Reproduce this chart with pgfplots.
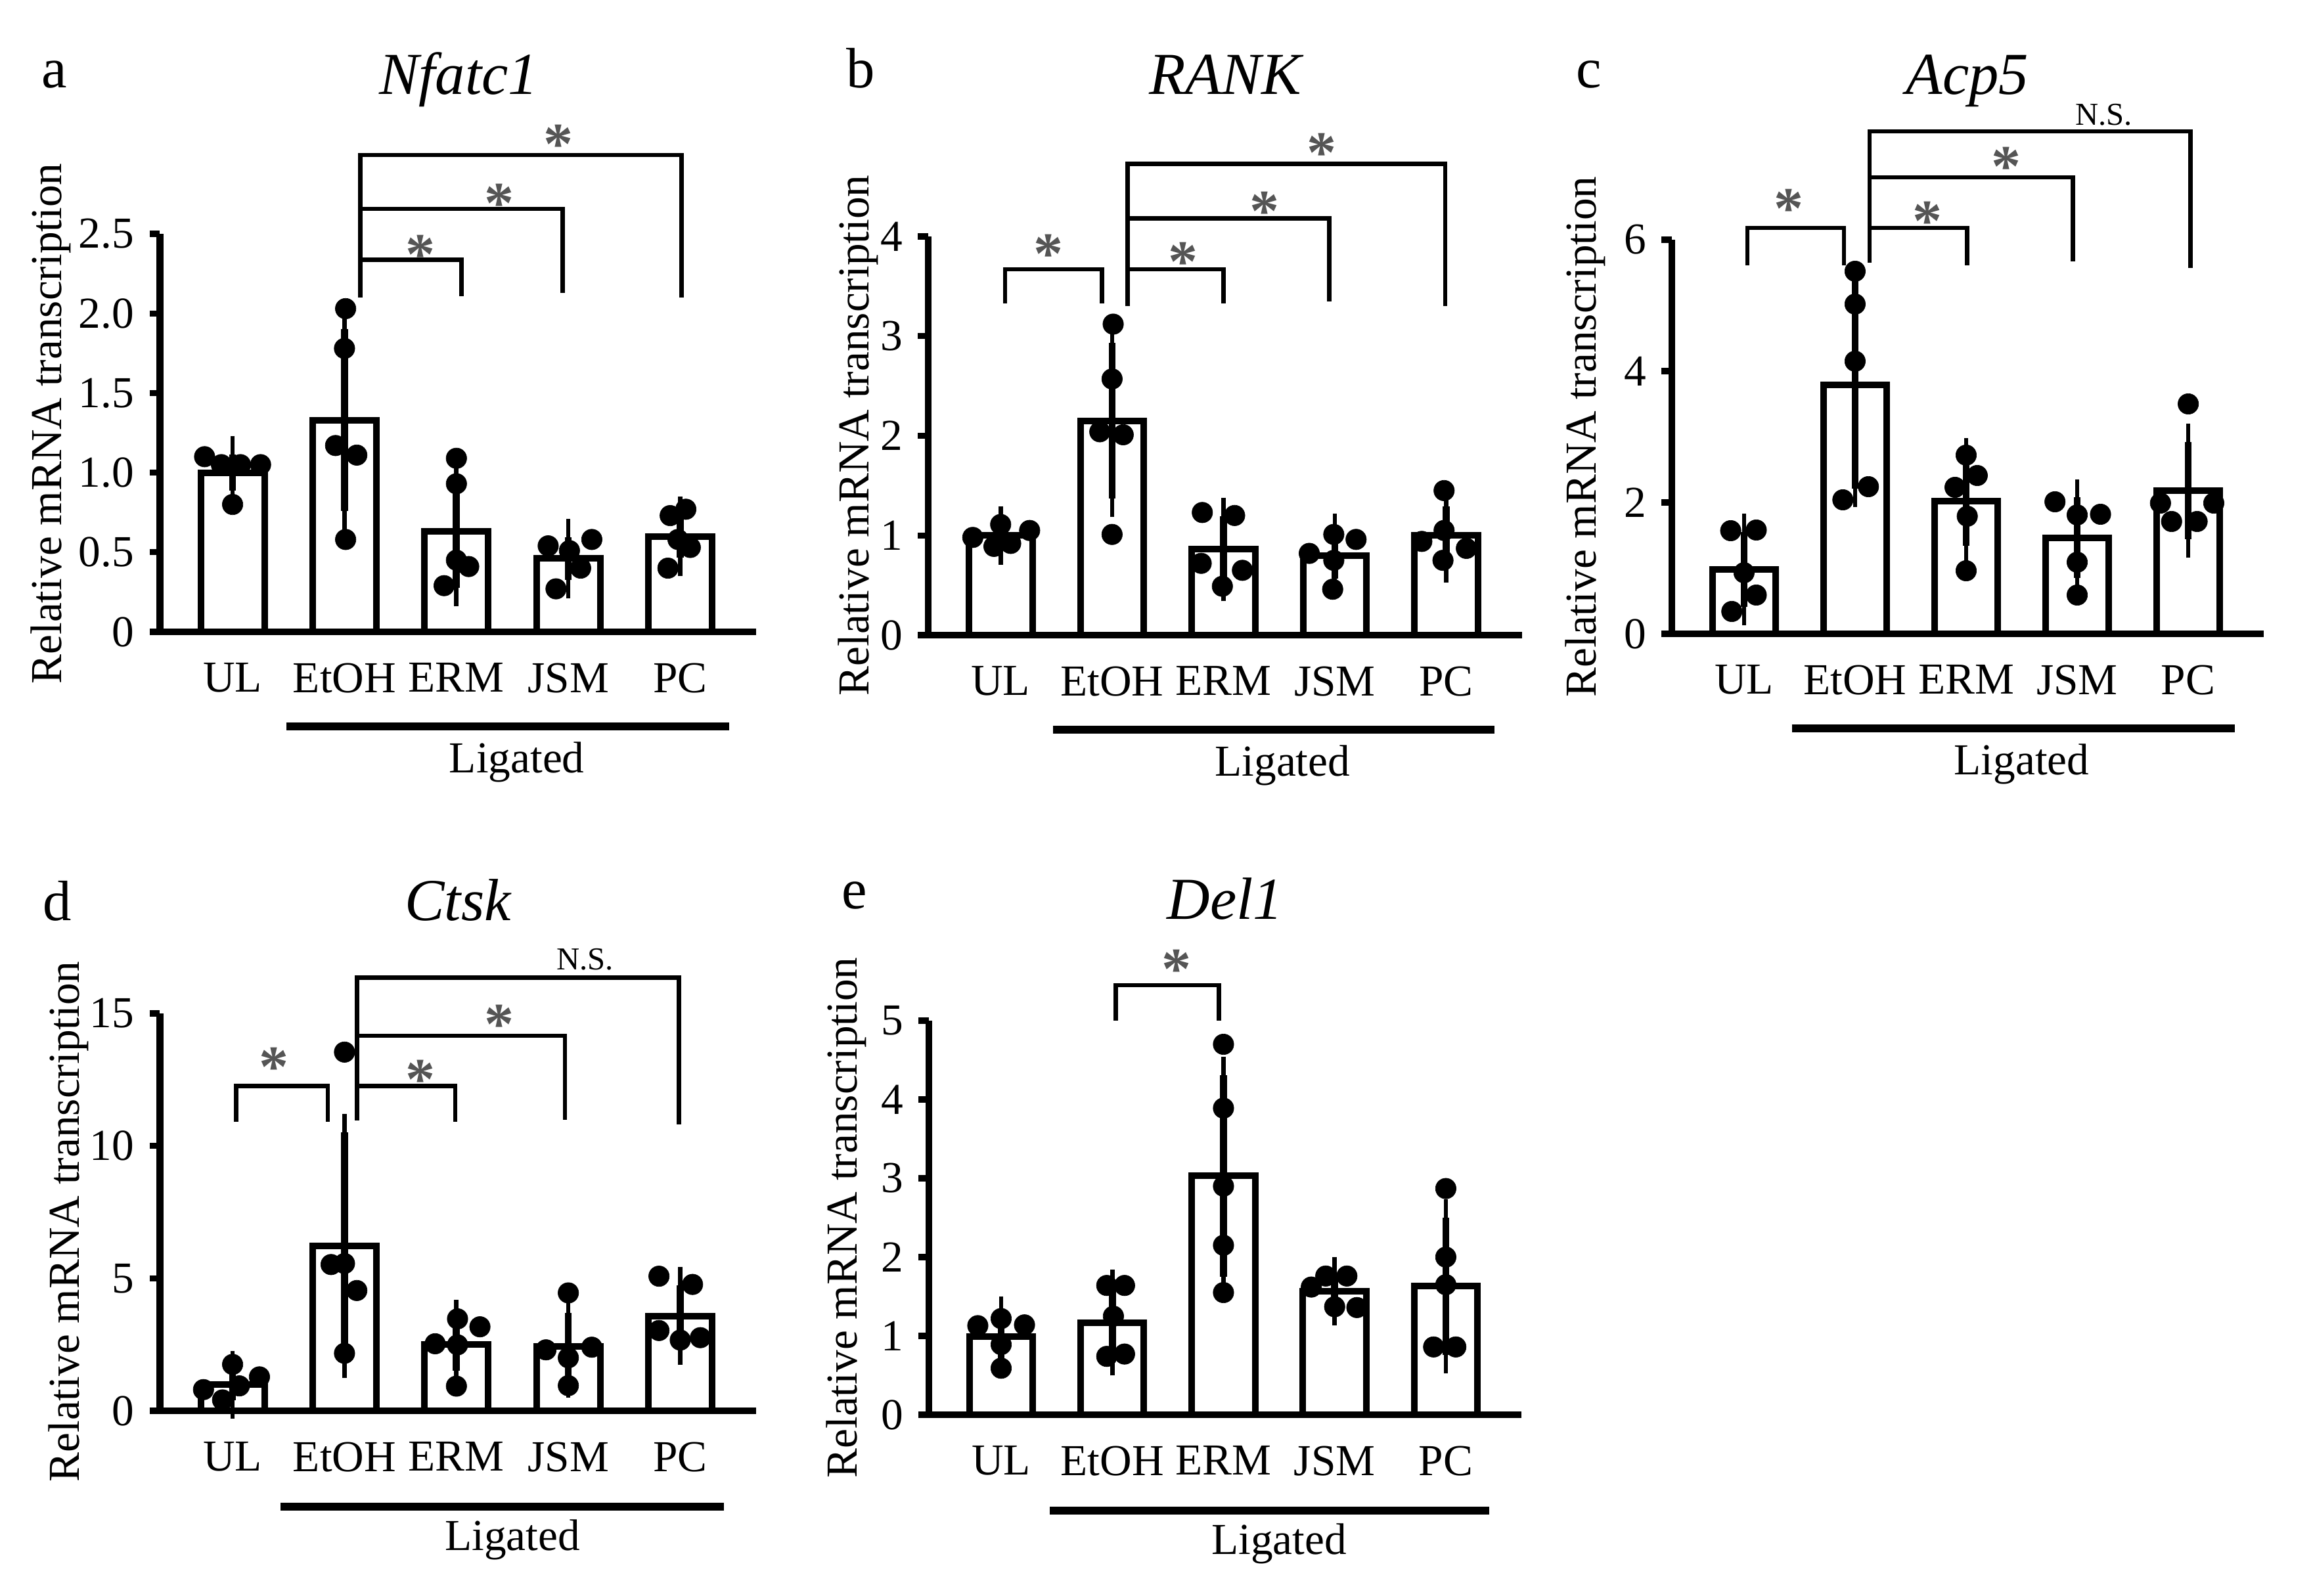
\documentclass[border=0pt]{standalone}
\usepackage{fontspec}
\setmainfont{Liberation Serif}
\usepackage{pgfplots}
\pgfplotsset{compat=1.18}
\usetikzlibrary{calc}

\definecolor{stargray}{HTML}{555555}

\newcommand{\tx}{\fontsize{10.1}{12}\selectfont}
\newcommand{\ttl}{\fontsize{13.6}{16}\selectfont\itshape}
\newcommand{\plab}{\fontsize{13}{15}\selectfont}
\newcommand{\nsf}{\fontsize{7.3}{9}\selectfont}
\newcommand{\stf}{\fontsize{13.5}{16}\selectfont\bfseries}

\tikzset{
  br/.style={line width=1pt},
  lig/.style={line width=1.8pt},
  sig/.style={font=\stf, text=stargray, inner sep=0pt, yshift=-1.8pt},
  nsl/.style={font=\nsf, anchor=base, inner sep=0pt},
  ylab/.style={font=\tx, rotate=90, anchor=base, inner sep=0pt},
}

\pgfplotsset{
  panel/.style={
    scale only axis, anchor=south west, clip=false,
    axis x line*=bottom, axis y line*=left,
    axis line style={line width=1.6pt},
    xmin=-0.65, xmax=4.68, ymin=0,
    xtick={0,1,2,3,4}, xticklabels={UL,EtOH,ERM,JSM,PC},
    major x tick style={draw=none},
    tick align=outside, major tick length=2.35pt,
    major y tick style={line width=1.4pt, black},
    ticklabel style={font=\tx},
    xticklabel style={yshift=-1.3pt},
  },
  barplot/.style={ybar, bar width=0.57, fill=white, draw=black, line width=1.5pt,
    error bars/y dir=both, error bars/y explicit,
    error bars/error bar style={line width=1.6pt, black},
    error bars/error mark options={line width=1.0pt, mark size=4.2pt, black}},
  dots/.style={only marks, mark=*, mark size=2.35pt,
    mark options={draw=black, fill=black, line width=0.1pt}},
}

\begin{document}
\begin{tikzpicture}
\path[use as bounding box] (0,0) rectangle (528.15pt,364.5pt);

% ---- a: Nfatc1
\begin{axis}[panel, at={(36.5pt,220.2pt)}, width=136.2pt, height=90.9pt,
  ymax=2.5, ytick={0,0.5,1,1.5,2,2.5}, yticklabels={0,0.5,1.0,1.5,2.0,2.5}]
\addplot[barplot] coordinates {(0,1.00)+-(0,0.115) (1,1.33)+-(0,0.57) (2,0.63)+-(0,0.355) (3,0.46)+-(0,0.135) (4,0.60)+-(0,0.135)};
\addplot[dots] coordinates {
 (-0.25,1.10) (-0.10,1.05) (0.07,1.05) (0.25,1.05) (0,0.80)
 (1.01,2.03) (1.0,1.78) (0.92,1.17) (1.11,1.11) (1.01,0.58)
 (2.0,1.09) (2.0,0.93) (2.0,0.45) (2.11,0.41) (1.89,0.29)
 (2.82,0.54) (3.01,0.51) (3.21,0.58) (3.11,0.40) (2.89,0.27)
 (3.91,0.73) (4.05,0.77) (3.98,0.58) (4.09,0.53) (3.89,0.40)};
\draw[br] (axis cs:1.14,2.10) -- (axis cs:1.14,2.995) -- (axis cs:4.01,2.995) -- (axis cs:4.01,2.10);
\draw[br] (axis cs:1.14,2.657) -- (axis cs:2.95,2.657) -- (axis cs:2.95,2.13);
\draw[br] (axis cs:1.14,2.337) -- (axis cs:2.045,2.337) -- (axis cs:2.045,2.11);
\node[sig] at (axis cs:1.68,2.42) {*};
\node[sig] at (axis cs:2.38,2.74) {*};
\node[sig] at (axis cs:2.91,3.11) {*};
\draw[lig] ($(axis cs:0.48,0)+(0pt,-21.6pt)$) -- ($(axis cs:4.44,0)+(0pt,-21.6pt)$);
\node[font=\tx, anchor=base] at ($(axis cs:2.54,0)+(0pt,-32.2pt)$) {Ligated};
\end{axis}

% ---- b: RANK
\begin{axis}[panel, at={(211.95pt,219.45pt)}, width=135.6pt, height=91.05pt,
  ymax=4, ytick={0,1,2,3,4}, yticklabels={0,1,2,3,4}]
\addplot[barplot] coordinates {(0,1.00)+-(0,0.11) (1,2.15)+-(0,0.78) (2,0.86)+-(0,0.335) (3,0.80)+-(0,0.235) (4,1.00)+-(0,0.29)};
\addplot[dots] coordinates {
 (-0.25,0.98) (-0.06,0.89) (0,1.11) (0.09,0.92) (0.26,1.05)
 (1.01,3.12) (1.0,2.57) (0.89,2.04) (1.10,2.01) (1.0,1.01)
 (1.81,1.23) (2.10,1.20) (1.80,0.72) (2.17,0.65) (1.99,0.49)
 (2.77,0.82) (2.99,1.01) (3.19,0.96) (2.99,0.75) (2.98,0.46)
 (3.98,1.45) (3.78,0.94) (3.98,1.05) (4.18,0.87) (3.97,0.75)};
\draw[br] (axis cs:0.04,3.33) -- (axis cs:0.04,3.67) -- (axis cs:0.91,3.67) -- (axis cs:0.91,3.33);
\draw[br] (axis cs:1.14,3.30) -- (axis cs:1.14,4.73) -- (axis cs:3.99,4.73) -- (axis cs:3.99,3.30);
\draw[br] (axis cs:1.14,4.18) -- (axis cs:2.95,4.18) -- (axis cs:2.95,3.35);
\draw[br] (axis cs:1.14,3.67) -- (axis cs:2.0,3.67) -- (axis cs:2.0,3.33);
\node[sig] at (axis cs:0.43,3.90) {*};
\node[sig] at (axis cs:1.64,3.82) {*};
\node[sig] at (axis cs:2.37,4.33) {*};
\node[sig] at (axis cs:2.88,4.92) {*};
\draw[lig] ($(axis cs:0.47,0)+(0pt,-21.6pt)$) -- ($(axis cs:4.43,0)+(0pt,-21.6pt)$);
\node[font=\tx, anchor=base] at ($(axis cs:2.53,0)+(0pt,-32.2pt)$) {Ligated};
\end{axis}

% ---- c: Acp5
\begin{axis}[panel, at={(381.75pt,219.75pt)}, width=135.15pt, height=90pt,
  ymax=6, ytick={0,2,4,6}, yticklabels={0,2,4,6}]
\addplot[barplot] coordinates {(0,0.98)+-(0,0.57) (1,3.79)+-(0,1.58) (2,2.02)+-(0,0.68) (3,1.46)+-(0,0.615) (4,2.18)+-(0,0.745)};
\addplot[dots] coordinates {
 (-0.12,1.57) (0.11,1.58) (0,0.93) (0.11,0.59) (-0.11,0.34)
 (1.0,5.52) (1.0,5.02) (1.0,4.15) (1.12,2.24) (0.89,2.04)
 (2.0,2.72) (2.10,2.41) (1.90,2.23) (2.01,1.79) (2.0,0.96)
 (2.80,2.01) (3.0,1.81) (3.21,1.82) (3.0,1.09) (3.0,0.59)
 (4.0,3.50) (3.75,1.99) (4.23,1.99) (3.85,1.71) (4.08,1.71)};
\draw[br] (axis cs:0.03,5.61) -- (axis cs:0.03,6.18) -- (axis cs:0.90,6.18) -- (axis cs:0.90,5.61);
\draw[br] (axis cs:1.13,5.65) -- (axis cs:1.13,7.65) -- (axis cs:4.02,7.65) -- (axis cs:4.02,5.57);
\draw[br] (axis cs:1.13,6.95) -- (axis cs:2.96,6.95) -- (axis cs:2.96,5.67);
\draw[br] (axis cs:1.13,6.18) -- (axis cs:2.01,6.18) -- (axis cs:2.01,5.61);
\node[sig] at (axis cs:0.40,6.59) {*};
\node[sig] at (axis cs:1.65,6.40) {*};
\node[sig] at (axis cs:2.36,7.23) {*};
\node[nsl] at (axis cs:3.24,7.75) {N.S.};
\draw[lig] ($(axis cs:0.43,0)+(0pt,-21.6pt)$) -- ($(axis cs:4.42,0)+(0pt,-21.6pt)$);
\node[font=\tx, anchor=base] at ($(axis cs:2.5,0)+(0pt,-32.2pt)$) {Ligated};
\end{axis}

% ---- d: Ctsk
\begin{axis}[panel, at={(36.5pt,42.3pt)}, width=136.2pt, height=90.75pt,
  ymax=15, ytick={0,5,10,15}, yticklabels={0,5,10,15}]
\addplot[barplot] coordinates {(0,0.98)+-(0,0.59) (1,6.22)+-(0,4.28) (2,2.50)+-(0,1.0) (3,2.44)+-(0,1.25) (4,3.58)+-(0,1.16)};
\addplot[dots] coordinates {
 (-0.26,0.80) (-0.09,0.41) (0,1.75) (0.06,0.94) (0.24,1.28)
 (1.0,13.54) (0.88,5.52) (1.0,5.56) (1.11,4.54) (1.0,2.17)
 (2.01,3.47) (2.21,3.17) (1.81,2.53) (2.01,2.49) (2.0,0.93)
 (3.0,4.45) (2.8,2.30) (3.21,2.40) (3.0,2.0) (3.0,0.95)
 (3.81,5.08) (4.11,4.77) (3.81,3.03) (4.0,2.67) (4.18,2.76)};
\draw[br] (axis cs:0.03,10.90) -- (axis cs:0.03,12.26) -- (axis cs:0.85,12.26) -- (axis cs:0.85,10.90);
\draw[br] (axis cs:1.11,10.96) -- (axis cs:1.11,16.35) -- (axis cs:3.99,16.35) -- (axis cs:3.99,10.81);
\draw[br] (axis cs:1.11,14.16) -- (axis cs:2.97,14.16) -- (axis cs:2.97,10.99);
\draw[br] (axis cs:1.11,12.26) -- (axis cs:1.99,12.26) -- (axis cs:1.99,10.90);
\node[sig] at (axis cs:0.37,13.27) {*};
\node[sig] at (axis cs:1.68,12.79) {*};
\node[sig] at (axis cs:2.38,14.88) {*};
\node[nsl] at (axis cs:3.15,16.66) {N.S.};
\draw[lig] ($(axis cs:0.43,0)+(0pt,-21.9pt)$) -- ($(axis cs:4.39,0)+(0pt,-21.9pt)$);
\node[font=\tx, anchor=base] at ($(axis cs:2.5,0)+(0pt,-31.8pt)$) {Ligated};
\end{axis}

% ---- e: Del1
\begin{axis}[panel, at={(212.1pt,41.4pt)}, width=135.3pt, height=90pt,
  ymax=5, ytick={0,1,2,3,4,5}, yticklabels={0,1,2,3,4,5}]
\addplot[barplot] coordinates {(0,0.99)+-(0,0.28) (1,1.17)+-(0,0.44) (2,3.03)+-(0,1.28) (3,1.57)+-(0,0.20) (4,1.63)+-(0,0.87)};
\addplot[dots] coordinates {
 (-0.21,1.13) (0,1.22) (0.21,1.14) (0,0.89) (0,0.59)
 (0.95,1.64) (1.11,1.64) (1.01,1.25) (0.95,0.74) (1.11,0.77)
 (2,4.70) (2,3.89) (2,2.90) (2,2.15) (2,1.55)
 (2.79,1.62) (2.92,1.76) (3.11,1.76) (3.0,1.37) (3.2,1.36)
 (4,2.87) (4,2.0) (4,1.65) (3.89,0.86) (4.09,0.86)};
\draw[br] (axis cs:1.03,5.0) -- (axis cs:1.03,5.45) -- (axis cs:1.96,5.45) -- (axis cs:1.96,5.0);
\node[sig] at (axis cs:1.58,5.75) {*};
\draw[lig] ($(axis cs:0.44,0)+(0pt,-21.9pt)$) -- ($(axis cs:4.39,0)+(0pt,-21.9pt)$);
\node[font=\tx, anchor=base] at ($(axis cs:2.5,0)+(0pt,-31.8pt)$) {Ligated};
\end{axis}

% y labels
\node[ylab] at (13.95pt,267.75pt) {Relative mRNA transcription};
\node[ylab] at (198.3pt,265.05pt) {Relative mRNA transcription};
\node[ylab] at (364.35pt,264.75pt) {Relative mRNA transcription};
\node[ylab] at (18.15pt,85.5pt) {Relative mRNA transcription};
\node[ylab] at (195.6pt,86.4pt) {Relative mRNA transcription};

% titles and panel letters
\node[font=\ttl, anchor=base] at (104.7pt,342.9pt) {Nfatc1};
\node[font=\ttl, anchor=base] at (279.75pt,342.9pt) {RANK};
\node[font=\ttl, anchor=base] at (449.25pt,342.9pt) {Acp5};
\node[font=\ttl, anchor=base] at (104.55pt,154.2pt) {Ctsk};
\node[font=\ttl, anchor=base] at (279.75pt,154.5pt) {Del1};
\node[font=\plab, anchor=base] at (12.4pt,344.5pt) {a};
\node[font=\plab, anchor=base] at (196.5pt,344.5pt) {b};
\node[font=\plab, anchor=base] at (362.85pt,344.5pt) {c};
\node[font=\plab, anchor=base] at (13pt,154.2pt) {d};
\node[font=\plab, anchor=base] at (195.1pt,157pt) {e};
\end{tikzpicture}
\end{document}
